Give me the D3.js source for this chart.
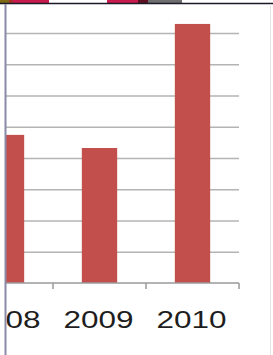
<!DOCTYPE html>
<html>
<head>
<meta charset="utf-8">
<script src="https://cdn.jsdelivr.net/npm/d3@7"></script>
<style>
  html, body { margin: 0; padding: 0; background: #fff; }
  svg { display: block; }
</style>
</head>
<body>
<svg id="chart"></svg>
<script>
const years = ['2008', '2009', '2010'];
const values = [4.74, 4.32, 8.29];
const gridTicks = [0, 1, 2, 3, 4, 5, 6, 7, 8];

const width = 273;
const height = 355;
const plotLeft = -40;
const plotRight = 239;
const plotTop = 33;
const plotBottom = 283;

const svg = d3.select('#chart')
    .attr('width', width)
    .attr('height', height);

// bits of whatever sits above the chart, cut off by the crop
const strip = [
  { x: 0, w: 9, c: '#7d6a12' },
  { x: 9, w: 4, c: '#a8302a' },
  { x: 13, w: 36, c: '#c81a4c' },
  { x: 107, w: 31, c: '#c81a4c' },
  { x: 138, w: 10, c: '#5c1022' },
  { x: 148, w: 34, c: '#6e6e6e' }
];
svg.selectAll('rect.strip')
    .data(strip)
    .enter()
    .append('rect')
    .attr('x', d => d.x)
    .attr('y', 0)
    .attr('width', d => d.w)
    .attr('height', 3)
    .attr('fill', d => d.c);

svg.append('clipPath')
    .attr('id', 'clip')
    .append('rect')
    .attr('x', 6)
    .attr('y', 4)
    .attr('width', 264)
    .attr('height', 351);

const g = svg.append('g').attr('clip-path', 'url(#clip)');

const xScale = d3.scaleBand()
    .domain(years)
    .range([plotLeft, plotRight])
    .paddingInner(0.62)
    .paddingOuter(0.31);

const yScale = d3.scaleLinear()
    .domain([0, 8])
    .range([plotBottom, plotTop]);

// gridlines
const grid = g.append('g')
    .attr('transform', `translate(${plotLeft}, 0)`)
    .call(d3.axisRight(yScale)
        .tickValues(gridTicks.slice(1))
        .tickSize(plotRight - plotLeft)
        .tickFormat(''));
grid.select('.domain').remove();
grid.selectAll('line')
    .attr('stroke', '#b4b4b4')
    .attr('stroke-width', 1.5);

g.selectAll('rect.bar')
    .data(values)
    .enter()
    .append('rect')
    .attr('class', 'bar')
    .attr('x', (_, i) => xScale(years[i]))
    .attr('width', xScale.bandwidth())
    .attr('y', d => yScale(d))
    .attr('height', d => yScale(0) - yScale(d))
    .attr('fill', '#c24f4c');

// category axis: ticks sit between the bars
const step = xScale.step();
const xAxis = g.append('g')
    .attr('transform', `translate(0, ${plotBottom})`);
xAxis.append('line')
    .attr('x1', plotLeft)
    .attr('x2', plotRight)
    .attr('stroke', '#9a9a9a')
    .attr('stroke-width', 1.5);
xAxis.selectAll('line.tick')
    .data(years)
    .enter()
    .append('line')
    .attr('class', 'tick')
    .attr('x1', d => xScale(d) + xScale.bandwidth() / 2 + step / 2)
    .attr('x2', d => xScale(d) + xScale.bandwidth() / 2 + step / 2)
    .attr('y1', 0)
    .attr('y2', 6)
    .attr('stroke', '#9a9a9a')
    .attr('stroke-width', 1.5);
xAxis.selectAll('text')
    .data(years)
    .enter()
    .append('text')
    .text(d => d)
    .attr('x', d => xScale(d) + xScale.bandwidth() / 2 - 36)
    .attr('y', 45)
    .attr('textLength', 70)
    .attr('lengthAdjust', 'spacingAndGlyphs')
    .attr('font-family', 'Liberation Sans, Arial, sans-serif')
    .attr('font-size', 24)
    .attr('fill', '#1e1e1e');

// frame edges
svg.append('line')
    .attr('x1', 0).attr('x2', width)
    .attr('y1', 3.5).attr('y2', 3.5)
    .attr('stroke', '#1a1a2a')
    .attr('stroke-width', 1.5);
svg.append('line')
    .attr('x1', 5.5).attr('x2', 5.5)
    .attr('y1', 4).attr('y2', height)
    .attr('stroke', '#8a8aa6')
    .attr('stroke-width', 2);
svg.append('line')
    .attr('x1', 270.5).attr('x2', 270.5)
    .attr('y1', 4).attr('y2', height)
    .attr('stroke', '#e4e4e4')
    .attr('stroke-width', 1);
</script>
</body>
</html>
